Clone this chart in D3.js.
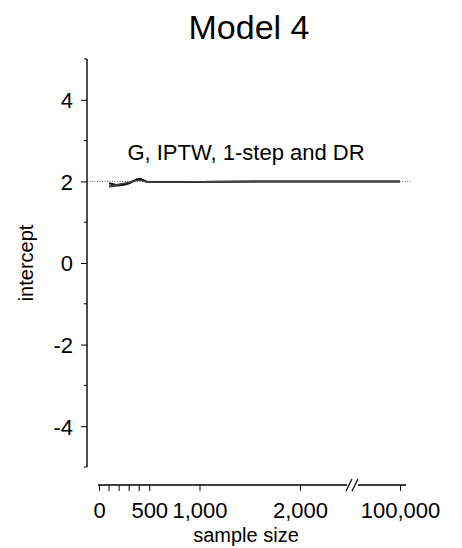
<!DOCTYPE html>
<html><head><meta charset="utf-8">
<script src="https://cdn.jsdelivr.net/npm/d3@7"></script>
<style>body{margin:0;background:#fff}svg{display:block}text{font-family:"Liberation Sans",Arial,sans-serif;fill:#000}</style>
</head><body><svg id="c" width="462" height="548"></svg>
<script>
const sampleSizes = [100, 200, 300, 400, 500, 1000, 2000, 100000];
const seriesNames = ["G", "IPTW", "1-step", "DR"];
const gValues     = [1.96, 1.90, 1.95, 2.07, 1.98, 1.99, 2.0, 2.0];
const iptwValues  = [1.87, 1.90, 1.96, 2.04, 1.98, 1.99, 2.0, 2.0];
const oneStepValues = [1.95, 1.92, 1.97, 2.06, 1.98, 1.99, 2.0, 2.0];
const drValues    = [1.89, 1.93, 1.98, 2.03, 1.98, 1.99, 2.0, 2.0];
const yTicks = [-4, -2, 0, 2, 4];
const yMinorTicks = [-5, -3, -1, 1, 3, 5];
const xTicks = [0, 500, 1000, 2000, 100000];
const xTickLabels = ["0", "500", "1,000", "2,000", "100,000"];
const xMinorTicks = [100, 200, 300, 400];
const trueValue = 2;
const title = "Model 4";
const annotation = "G, IPTW, 1-step and DR";

const svg = d3.select("#c");
const x = d3.scaleLinear().domain([0, 2000, 100000]).range([99, 300, 400]);
const y = d3.scaleLinear().domain([-5, 5]).range([467, 59]);
const axisY = 485, axisX = 87;
const ff = '"Liberation Sans",Arial,sans-serif';

// title
svg.append("text").attr("x", 249).attr("y", 39).attr("text-anchor", "middle")
  .style("font-size", "34px").text(title);

// y axis
const gy = svg.append("g").attr("transform", `translate(${axisX},0)`);
gy.call(d3.axisLeft(y).tickValues(yTicks).tickSize(6).tickFormat(d => String(d)));
gy.select(".domain").attr("stroke", "#000").attr("d", `M0,${y(5)}V${y(-5)}`).attr("stroke-width", 1.4);
gy.selectAll(".tick line").attr("stroke", "#000");
gy.selectAll(".tick text").style("font-size", "22px").attr("x", -14).attr("dy", "0.36em").style("font-family", ff);
gy.selectAll(".minor").data(yMinorTicks).enter().append("line")
  .attr("x1", -3).attr("x2", 0).attr("y1", d => y(d)).attr("y2", d => y(d)).attr("stroke", "#000");

// x axis
const gx = svg.append("g").attr("transform", `translate(0,${axisY})`);
const xa = d3.axisBottom(x).tickValues(xTicks).tickSize(6).tickFormat((d, i) => xTickLabels[i]);
gx.call(xa);
gx.select(".domain").remove();
gx.selectAll(".tick line").attr("stroke", "#000");
gx.selectAll(".tick text").style("font-size", "22px").attr("y", 33).attr("dy", "0").style("font-family", ff);
gx.selectAll(".minorx").data(xMinorTicks).enter().append("line")
  .attr("x1", d => x(d)).attr("x2", d => x(d)).attr("y1", 0).attr("y2", 6).attr("stroke", "#000");
gx.append("line").attr("x1", x(0) - 1).attr("x2", 347).attr("y1", 0).attr("y2", 0).attr("stroke", "#000").attr("stroke-width", 1.4);
gx.append("line").attr("x1", 358).attr("x2", 406).attr("y1", 0).attr("y2", 0).attr("stroke", "#000").attr("stroke-width", 1.4);
[346, 352].forEach(b => gx.append("line").attr("x1", b).attr("x2", b + 6).attr("y1", 6).attr("y2", -6).attr("stroke", "#000").attr("stroke-width", 1.2));

// axis labels
svg.append("text").attr("x", 246).attr("y", 542).attr("text-anchor", "middle").style("font-size", "20px").text("sample size");
svg.append("text").attr("transform", `translate(33,${y(0)}) rotate(-90)`).attr("text-anchor", "middle").style("font-size", "20px").text("intercept");

// reference line
svg.append("line").attr("x1", axisX).attr("x2", 411).attr("y1", y(trueValue)).attr("y2", y(trueValue))
  .attr("stroke", "#333").attr("stroke-width", 0.8).attr("stroke-dasharray", "1,1.5");

// series
const allSeries = [gValues, iptwValues, oneStepValues, drValues];
const line = d3.line().x((d, i) => x(sampleSizes[i])).y(d => y(d)).curve(d3.curveMonotoneX);
const shades = ["#000", "#333", "#000", "#444"];
allSeries.forEach((s, k) => {
  svg.append("path").attr("d", line(s)).attr("fill", "none").attr("stroke", shades[k]).attr("stroke-width", 1.5);
});

// annotation
svg.append("text").attr("x", 246).attr("y", 160).attr("text-anchor", "middle").style("font-size", "22px").text(annotation);
</script></body></html>
